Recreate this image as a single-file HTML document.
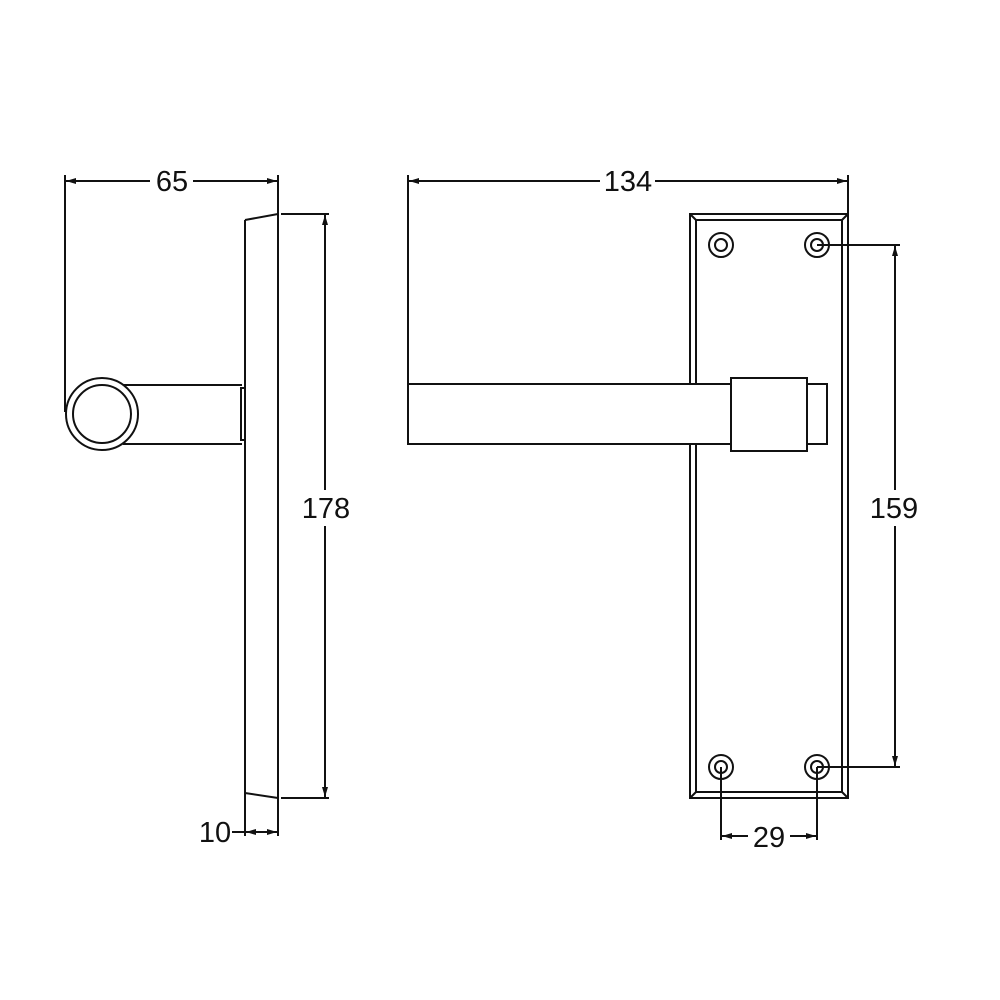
<!DOCTYPE html>
<html><head><meta charset="utf-8"><style>html,body{margin:0;padding:0;background:#fff}svg{display:block}</style></head>
<body>
<svg width="1000" height="1000" viewBox="0 0 1000 1000" xmlns="http://www.w3.org/2000/svg">
<defs>
<marker id="a" viewBox="0 0 10 6" refX="10" refY="3" markerWidth="10" markerHeight="6" markerUnits="userSpaceOnUse" orient="auto-start-reverse"><path d="M0,0 L10,3 L0,6 Z" fill="#111"/></marker>
</defs>
<g stroke="#111" stroke-width="2" fill="none">
<!-- LEFT VIEW -->
<line x1="65" y1="175" x2="65" y2="412"/>
<line x1="278" y1="175" x2="278" y2="836"/>
<line x1="66" y1="181" x2="150" y2="181" marker-start="url(#a)"/>
<line x1="193" y1="181" x2="277" y2="181" marker-end="url(#a)"/>
<line x1="245" y1="220" x2="245" y2="836"/>
<line x1="245" y1="220" x2="278" y2="214"/>
<line x1="245" y1="793" x2="278" y2="798"/>
<line x1="281" y1="214" x2="329" y2="214"/>
<line x1="281" y1="798" x2="329" y2="798"/>
<line x1="325" y1="215" x2="325" y2="797" marker-start="url(#a)" marker-end="url(#a)"/>
<circle cx="102" cy="414" r="36"/>
<circle cx="102" cy="414" r="29"/>
<line x1="123" y1="385" x2="242" y2="385"/>
<line x1="123" y1="444" x2="242" y2="444"/>
<rect x="241" y="388" width="4" height="52"/>
<line x1="232" y1="832" x2="245" y2="832"/>
<line x1="246" y1="832" x2="277" y2="832" marker-start="url(#a)" marker-end="url(#a)"/>
<!-- RIGHT VIEW -->
<line x1="408" y1="175" x2="408" y2="384"/>
<line x1="848" y1="175" x2="848" y2="214"/>
<line x1="409" y1="181" x2="600" y2="181" marker-start="url(#a)"/>
<line x1="655" y1="181" x2="847" y2="181" marker-end="url(#a)"/>
<rect x="690" y="214" width="158" height="584"/>
<rect x="696" y="220" width="146" height="572"/>
<line x1="690" y1="214" x2="696" y2="220"/>
<line x1="848" y1="214" x2="842" y2="220"/>
<line x1="690" y1="798" x2="696" y2="792"/>
<line x1="848" y1="798" x2="842" y2="792"/>
<circle cx="721" cy="245" r="12"/><circle cx="721" cy="245" r="6"/>
<circle cx="817" cy="245" r="12"/><circle cx="817" cy="245" r="6"/>
<circle cx="721" cy="767" r="12"/><circle cx="721" cy="767" r="6"/>
<circle cx="817" cy="767" r="12"/><circle cx="817" cy="767" r="6"/>
<rect x="408" y="384" width="325" height="60" fill="#fff"/>
<rect x="731" y="378" width="76" height="73" fill="#fff"/>
<rect x="807" y="384" width="20" height="60" fill="#fff"/>
<line x1="817" y1="245" x2="900" y2="245"/>
<line x1="817" y1="767" x2="900" y2="767"/>
<line x1="895" y1="246" x2="895" y2="766" marker-start="url(#a)" marker-end="url(#a)"/>
<line x1="721" y1="767" x2="721" y2="840"/>
<line x1="817" y1="767" x2="817" y2="840"/>
<line x1="722" y1="836" x2="748" y2="836" marker-start="url(#a)"/>
<line x1="790" y1="836" x2="816" y2="836" marker-end="url(#a)"/>
</g>
<g font-family="Liberation Sans, sans-serif" font-size="29" fill="#111" text-anchor="middle">
<text x="172" y="191">65</text>
<rect x="298" y="490" width="56" height="36" fill="#fff"/>
<text x="326" y="518">178</text>
<text x="215" y="842">10</text>
<text x="628" y="191">134</text>
<rect x="866" y="490" width="58" height="36" fill="#fff"/>
<text x="894" y="518">159</text>
<text x="769" y="847">29</text>
</g>
</svg>
</body></html>
